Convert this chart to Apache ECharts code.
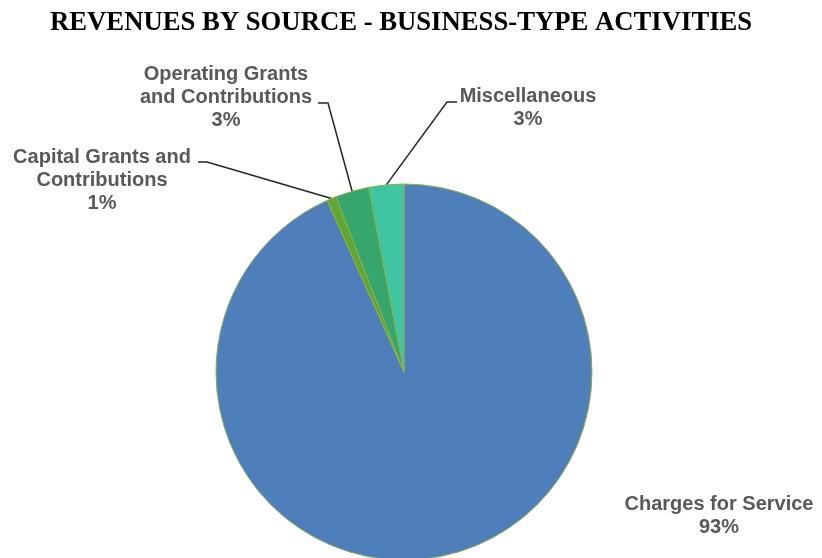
<!DOCTYPE html>
<html>
<head>
<meta charset="utf-8">
<script src="https://cdn.jsdelivr.net/npm/echarts@6/dist/echarts.min.js"></script>
<style>
  html, body { margin: 0; padding: 0; background: #fff; }
  #chart { width: 822px; height: 558px; }
</style>
</head>
<body>
<div id="chart"></div>
<script>
// slices, clockwise from 12 o'clock
var sources = ['Charges for Service', 'Capital Grants and\nContributions', 'Operating Grants\nand Contributions', 'Miscellaneous']
var shares = [93.3, 0.8, 2.9, 3.0]
var sliceColors = ['#4E7FBB', '#62A533', '#36A66D', '#41C4A2']

// where each label sits and where its leader line bends
var labelSpots = [
  { x: 719, y: 516, elbow: null },
  { x: 102, y: 180, elbow: [[207, 162], [198, 162]] },
  { x: 226, y: 97, elbow: [[328, 103], [318, 103]] },
  { x: 528, y: 108, elbow: [[447, 102], [457, 102]] }
]

var chart = echarts.init(document.getElementById('chart'))

var pieData = []
for (var i = 0; i < sources.length; i++) {
  pieData.push({
    name: sources[i],
    value: shares[i],
    itemStyle: { color: sliceColors[i] },
    labelLine: { show: labelSpots[i].elbow != null }
  })
}

var option = {
  animation: false,
  title: {
    text: 'REVENUES BY SOURCE - BUSINESS-TYPE ACTIVITIES',
    left: 45,
    top: 5,
    textStyle: {
      fontFamily: 'Liberation Serif',
      fontWeight: 'bold',
      fontSize: 26.7,
      color: '#000'
    }
  },
  series: [{
    type: 'pie',
    center: [404, 372],
    radius: 188,
    startAngle: 90,
    clockwise: true,
    avoidLabelOverlap: false,
    itemStyle: {
      borderColor: '#8DB04B',
      borderWidth: 1
    },
    label: {
      show: true,
      fontFamily: 'Liberation Sans',
      fontWeight: 'bold',
      fontSize: 20,
      lineHeight: 23,
      color: '#595959',
      formatter: function (p) {
        return p.name + '\n' + Math.round(p.percent) + '%'
      }
    },
    labelLine: {
      show: true,
      lineStyle: { color: '#262626', width: 1.5 }
    },
    labelLayout: function (params) {
      var spot = labelSpots[params.dataIndex]
      var out = {
        x: spot.x,
        y: spot.y,
        align: 'center',
        verticalAlign: 'middle'
      }
      if (spot.elbow && params.labelLinePoints) {
        out.labelLinePoints = [params.labelLinePoints[0], spot.elbow[0], spot.elbow[1]]
      }
      return out
    },
    data: pieData
  }]
}

chart.setOption(option)
</script>
</body>
</html>
